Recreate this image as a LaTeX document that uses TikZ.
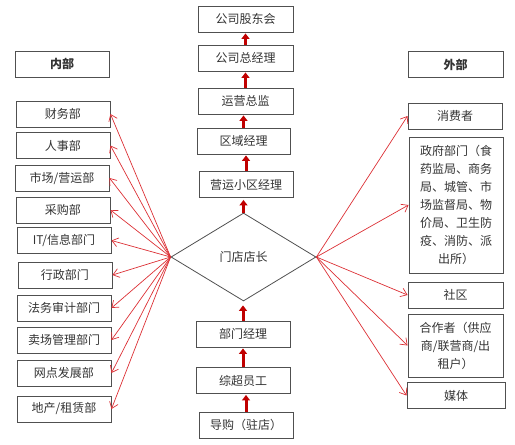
\documentclass[tikz,border=0pt]{standalone}
\usepackage{fontspec}
\setmainfont{Noto Sans CJK SC}
\usetikzlibrary{shapes.geometric,arrows.meta}
\definecolor{boxline}{HTML}{505050}
\definecolor{txt}{HTML}{333333}
\definecolor{thinred}{HTML}{DC3035}
\definecolor{thickred}{HTML}{C00000}
\begin{document}
\begin{tikzpicture}[x=1pt,y=-1pt,
  box/.style={draw=boxline, line width=0.9pt, minimum width=94pt, minimum height=26pt, inner sep=0pt, font=\fontsize{12}{18}\selectfont, text=txt, align=center},
  link/.style={draw=thinred, line width=0.7pt, -{Straight Barb[length=6pt,width=9pt]}},
  uparrow/.style={draw=thickred, line width=3pt, -{Triangle[length=5.5pt,width=8pt]}, shorten >=1pt}]
\useasboundingbox (0,0) rectangle (515,445);
% left column
\node[box, font=\fontsize{12}{18}\selectfont\bfseries] (neibu) at (62,64) {内部};
\node[box] (cw) at (63,114) {财务部};
\node[box] (rs) at (63,145.5) {人事部};
\node[box] (sc) at (62,178) {市场/营运部};
\node[box] (cg) at (63,210) {采购部};
\node[box] (it) at (64,240.5) {IT/信息部门};
\node[box] (xz) at (65,275) {行政部门};
\node[box] (fw) at (64,308) {法务审计部门};
\node[box] (mc) at (64,340) {卖场管理部门};
\node[box] (wd) at (64,373) {网点发展部};
\node[box] (dc) at (64,409) {地产/租赁部};
% center column
\node[box, minimum width=95pt] (gd) at (245.5,19) {公司股东会};
\node[box, minimum width=95pt] (zjl) at (245.5,58) {公司总经理};
\node[box, minimum width=95pt] (zj) at (245.5,101) {运营总监};
\node[box, minimum width=93pt] (qy) at (243.5,141) {区域经理};
\node[box, minimum width=94pt] (yy) at (246,184.5) {营运小区经理};
\node[diamond, draw=boxline, line width=0.8pt, inner sep=0pt, minimum width=145pt, minimum height=88pt, text=txt, font=\fontsize{12}{18}\selectfont] (dm) at (243.5,257) {门店店长};
\node[box] (bm) at (243,334) {部门经理};
\node[box] (zc) at (243,380.5) {综超员工};
\node[box] (dg) at (246,425) {导购（驻店）};
% right column
\node[box, minimum width=95pt, font=\fontsize{12}{18}\selectfont\bfseries] (wb) at (455.5,64.5) {外部};
\node[box] (xf) at (455,116) {消费者};
\node[box, minimum height=136pt] (zf) at (456,205) {政府部门（食\\药监局、商务\\局、城管、市\\场监督局、物\\价局、卫生防\\疫、消防、派\\出所）};
\node[box, minimum width=95pt] (sq) at (455.5,295) {社区};
\node[box, minimum width=95pt, minimum height=63pt] (hz) at (455.5,345.5) {合作者（供应\\商/联营商/出\\租户）};
\node[box, minimum width=98pt] (mt) at (456,395.5) {媒体};
% thick arrows
\draw[uparrow] (zjl.north) -- (zjl.north |- gd.south);
\draw[uparrow] (zj.north) -- (zj.north |- zjl.south);
\draw[uparrow] (qy.north) -- (qy.north |- zj.south);
\draw[uparrow] (yy.north) -- (yy.north |- qy.south);
\draw[uparrow, shorten >=2pt] (dm.north) -- (dm.north |- yy.south);
\draw[uparrow, shorten >=4pt] (bm.north) -- (bm.north |- dm.south);
\draw[uparrow] (zc.north) -- (zc.north |- bm.south);
\draw[uparrow] (dg.north) -- (dg.north |- zc.south);
% thin links
\foreach \n in {cw,rs,sc,cg,it,xz,fw,mc,wd,dc} \draw[link] (dm.west) -- (\n.east);
\draw[link] (dm.east) -- (xf.west);
\draw[link] (dm.east) -- (zf.west);
\draw[link] (dm.east) -- (sq.west);
\draw[link] (dm.east) -- (hz.west);
\draw[link] (dm.east) -- (mt.west);
\end{tikzpicture}
\end{document}
